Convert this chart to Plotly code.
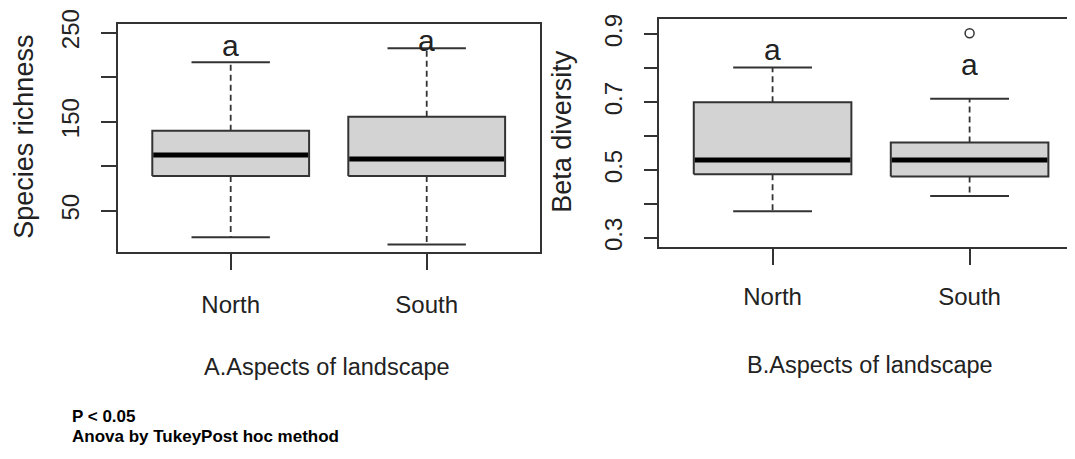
import plotly.graph_objects as go

# page is rendered with an 8px body margin, so the figure is 8px smaller
OFF = 8
W, H = 1075 - OFF, 459 - OFF

groups = ["North", "South"]
positions = [1, 2]

# Panel A: Species richness
rich_lower = [20.1, 12.2]
rich_q1 = [89.0, 89.0]
rich_median = [112.6, 108.1]
rich_q3 = [139.9, 155.6]
rich_upper = [216.7, 232.5]
rich_letters = ["a", "a"]
rich_letter_y = [235.3, 241.8]
rich_ticks = [50, 100, 150, 200, 250]
rich_ticktext = ["50", "", "150", "", "250"]

# Panel B: Beta diversity
beta_lower = [0.379, 0.424]
beta_q1 = [0.488, 0.481]
beta_median = [0.530, 0.530]
beta_q3 = [0.700, 0.581]
beta_upper = [0.802, 0.710]
beta_outlier_pos = [2]
beta_outlier = [0.903]
beta_letters = ["a", "a"]
beta_letter_y = [0.854, 0.812]
beta_ticks = [0.3, 0.4, 0.5, 0.6, 0.7, 0.8, 0.9]
beta_ticktext = ["0.3", "", "0.5", "", "0.7", "", "0.9"]

BOX_HALF = 0.4
CAP_HALF = 0.2
FRAME = "#333333"
FILL = "#d3d3d3"
TXT = "#222222"
FONT = "Liberation Sans, Arial, sans-serif"
NARROW = "Liberation Sans Narrow, Arial Narrow, Liberation Sans, sans-serif"


def px_x(p):
    return (p - OFF) / W


def px_y(p):
    return 1 - (p - OFF) / H


fig = go.Figure()


def add_panel(xa, ya, lower, q1, med, q3, upper):
    for x, lo, a, m, b, up in zip(positions, lower, q1, med, q3, upper):
        # box body
        fig.add_trace(go.Scatter(
            x=[x - BOX_HALF, x + BOX_HALF, x + BOX_HALF, x - BOX_HALF, x - BOX_HALF],
            y=[a, a, b, b, a], mode="lines", fill="toself", fillcolor=FILL,
            line=dict(color=FRAME, width=2), xaxis=xa, yaxis=ya,
            showlegend=False, hoverinfo="skip"))
        # whiskers (dashed)
        fig.add_trace(go.Scatter(
            x=[x, x, None, x, x], y=[b, up, None, a, lo], mode="lines",
            line=dict(color=FRAME, width=1.8, dash="6px,4px"),
            xaxis=xa, yaxis=ya, showlegend=False, hoverinfo="skip"))
        # caps
        fig.add_trace(go.Scatter(
            x=[x - CAP_HALF, x + CAP_HALF, None, x - CAP_HALF, x + CAP_HALF],
            y=[up, up, None, lo, lo], mode="lines",
            line=dict(color=FRAME, width=2),
            xaxis=xa, yaxis=ya, showlegend=False, hoverinfo="skip"))
        # median
        fig.add_trace(go.Scatter(
            x=[x - BOX_HALF + 0.005, x + BOX_HALF - 0.005], y=[m, m], mode="lines",
            line=dict(color="black", width=5),
            xaxis=xa, yaxis=ya, showlegend=False, hoverinfo="skip"))


add_panel("x", "y", rich_lower, rich_q1, rich_median, rich_q3, rich_upper)
add_panel("x2", "y2", beta_lower, beta_q1, beta_median, beta_q3, beta_upper)

fig.add_trace(go.Scatter(
    x=beta_outlier_pos, y=beta_outlier, mode="markers",
    marker=dict(symbol="circle-open", size=9, color=FRAME, line=dict(width=1.5, color=FRAME)),
    xaxis="x2", yaxis="y2", showlegend=False, hoverinfo="skip"))

# letters
for x, t, yv in zip(positions, rich_letters, rich_letter_y):
    fig.add_annotation(x=x, y=yv, xref="x", yref="y", text=t, showarrow=False,
                       font=dict(family=NARROW, size=30, color=TXT),
                       xanchor="center", yanchor="middle")
for x, t, yv in zip(positions, beta_letters, beta_letter_y):
    fig.add_annotation(x=x, y=yv, xref="x2", yref="y2", text=t, showarrow=False,
                       font=dict(family=NARROW, size=30, color=TXT),
                       xanchor="center", yanchor="middle")

axis_common = dict(showline=True, linecolor=FRAME, linewidth=2, ticks="outside",
                   tickcolor=FRAME, tickwidth=2, showgrid=False, zeroline=False,
                   automargin=False,
                   tickfont=dict(family=FONT, size=24, color=TXT))

fig.update_layout(
    width=W, height=H, margin=dict(l=0, r=0, t=0, b=0, autoexpand=False),
    paper_bgcolor="white", plot_bgcolor="white", showlegend=False,
    xaxis=dict(domain=[px_x(117.8), px_x(540)], range=[0.424, 2.578],
               tickvals=positions, ticktext=groups, mirror=True, ticklen=16,
               ticklabelstandoff=14, anchor="y", **axis_common),
    yaxis=dict(domain=[px_y(252.3), px_y(24)], range=[3.3, 259.8],
               tickvals=rich_ticks, ticktext=rich_ticktext, mirror=True, ticklen=15,
               tickangle=-90, ticklabelstandoff=12, anchor="x", **axis_common),
    xaxis2=dict(domain=[px_x(658.7), 1.0], range=[0.422, 2.535],
                tickvals=positions, ticktext=groups, mirror=True, ticklen=16,
                ticklabelstandoff=11, anchor="y2", **axis_common),
    yaxis2=dict(domain=[px_y(246.7), px_y(19)], range=[0.2744, 0.945],
                tickvals=beta_ticks, ticktext=beta_ticktext, mirror=False, ticklen=13,
                tickangle=-90, ticklabelstandoff=12, anchor="x2", **axis_common),
)

# axis titles and notes
fig.add_annotation(x=0, y=px_y(136.7), xref="paper", yref="paper",
                   xanchor="left", yanchor="middle", borderpad=0,
                   text="Species richness", textangle=-90, showarrow=False,
                   font=dict(family=FONT, size=27, color=TXT))
fig.add_annotation(x=px_x(562), y=px_y(131.7), xref="paper", yref="paper",
                   xanchor="center", yanchor="middle",
                   text="Beta diversity", textangle=-90, showarrow=False,
                   font=dict(family=FONT, size=27, color=TXT))
fig.add_annotation(x=px_x(327), y=px_y(367), xref="paper", yref="paper",
                   xanchor="center", yanchor="middle",
                   text="A.Aspects of landscape", showarrow=False,
                   font=dict(family=FONT, size=23.5, color=TXT))
fig.add_annotation(x=px_x(870), y=px_y(365), xref="paper", yref="paper",
                   xanchor="center", yanchor="middle",
                   text="B.Aspects of landscape", showarrow=False,
                   font=dict(family=FONT, size=23.5, color=TXT))
NOTE_FONT = "Liberation Sans, Arial, sans-serif"
fig.add_annotation(x=px_x(71), y=px_y(416.5), xref="paper", yref="paper",
                   xanchor="left", yanchor="middle", borderpad=0,
                   text="<b>P < 0.05</b>", showarrow=False,
                   font=dict(family=NOTE_FONT, size=17, color="black"))
fig.add_annotation(x=px_x(71), y=px_y(436), xref="paper", yref="paper",
                   xanchor="left", yanchor="middle", borderpad=0,
                   text="<b>Anova by TukeyPost hoc method</b>",
                   showarrow=False,
                   font=dict(family=NOTE_FONT, size=17, color="black"))

fig.write_html("out.html")
